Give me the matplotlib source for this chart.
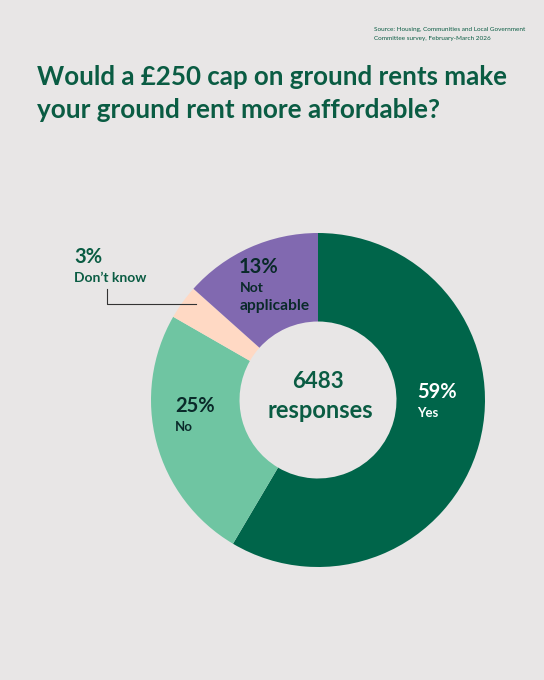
import matplotlib
matplotlib.use("Agg")
import matplotlib.pyplot as plt

labels = ["Yes", "No", "Don\u2019t know", "Not", "applicable"]
values = [58.5, 24.8, 3.3, 13.4]
colors = ["#00654A", "#6FC5A2", "#FFD9C4", "#8169B0"]
percent = ["59%", "25%", "3%", "13%"]

BG = "#E8E6E6"
GREEN = "#0A5C43"
DARK = "#0A2A2A"
plt.rcParams['font.family'] = ['Lato', 'DejaVu Sans']

W, H = 544, 680
fig = plt.figure(figsize=(W / 100, H / 100), dpi=100, facecolor=BG)

# pie in its own axes (centred at 318,400, radius 167)
pax = fig.add_axes([(318 - 167) / W, 1 - (400 + 167) / H, 334 / W, 334 / H])
pax.pie(values, colors=colors, startangle=90, counterclock=False, radius=1.0,
        wedgeprops=dict(width=0.53, linewidth=0))
pax.set_xlim(-1, 1)
pax.set_ylim(-1, 1)
pax.set_aspect("equal")

# overlay for text, drawn above the pie
ax = fig.add_axes([0, 0, 1, 1], zorder=5)
ax.set_xlim(0, W)
ax.set_ylim(H, 0)
ax.axis("off")

ax.text(373.5, 29.5, "Source: Housing, Communities and Local Government", ha="left", va="center", fontsize=4.6, color=GREEN)
ax.text(373.5, 38.5, "Committee survey, February-March 2026", ha="left", va="center", fontsize=4.6, color=GREEN)
ax.text(37, 77, "Would a \u00a3250 cap on ground rents make", fontsize=18.65, fontweight="bold", color=GREEN, va="center")
ax.text(37, 110, "your ground rent more affordable?", fontsize=18.85, fontweight="bold", color=GREEN, va="center")

ax.text(318, 381, "6483", ha="center", va="center", fontsize=16, fontweight="bold", color=GREEN)
ax.text(320, 411, "responses", ha="center", va="center", fontsize=17, fontweight="bold", color=GREEN)

ax.text(417, 392, percent[0], fontsize=14.5, fontweight="bold", color="white", va="center")
ax.text(417, 413, labels[0], fontsize=9.5, fontweight="bold", color="white", va="center")
ax.text(175, 406, percent[1], fontsize=14.5, fontweight="bold", color=DARK, va="center")
ax.text(175, 427, labels[1], fontsize=9.5, fontweight="bold", color=DARK, va="center")
ax.text(74, 257, percent[2], fontsize=14.5, fontweight="bold", color=GREEN, va="center")
ax.text(74, 278, labels[2], fontsize=10, fontweight="bold", color=GREEN, va="center")
ax.text(239, 267, percent[3], fontsize=14.5, fontweight="bold", color=DARK, va="center")
ax.text(240, 288, labels[3], fontsize=10, fontweight="bold", color=DARK, va="center")
ax.text(240, 306, labels[4], fontsize=11.2, fontweight="bold", color=DARK, va="center")

ax.plot([107, 107, 196], [289, 304, 304], color="#333333", lw=0.8)
fig.savefig("out.png", dpi=100, facecolor=BG)
